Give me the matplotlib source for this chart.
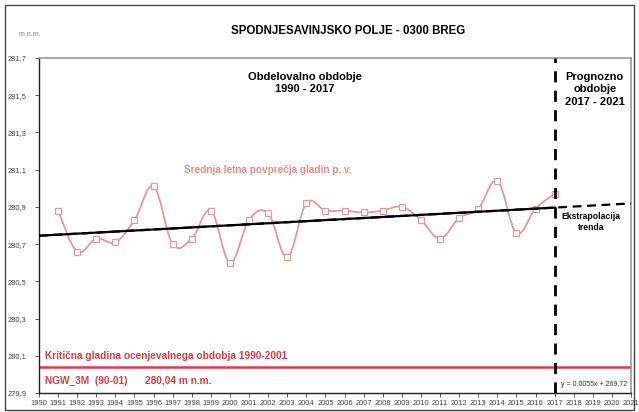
import matplotlib.pyplot as plt
from matplotlib.path import Path
from matplotlib.patches import PathPatch, Rectangle
import numpy as np

plt.rcParams['font.family'] = ['Liberation Sans', 'DejaVu Sans']

# Mean annual groundwater level (m n.m.)
years = np.arange(1991, 2018)
levels = [280.88, 280.66, 280.73, 280.71, 280.83, 281.01, 280.70, 280.73, 280.88, 280.60,
          280.83, 280.865, 280.63, 280.92, 280.88, 280.88, 280.87, 280.88, 280.90, 280.83,
          280.73, 280.84, 280.89, 281.04, 280.76, 280.89, 280.97]

# Linear trend (value at 1990 and slope per year)
trend_start_year = 1990
trend_start = 280.745
trend_slope = 0.0056
forecast_year = 2017
end_year = 2021

# Critical level NGW_3M (90-01)
critical_level = 280.04

yticks = np.round(np.arange(279.9, 281.71, 0.2), 1)
xticks = np.arange(1990, 2022)

series_color = '#e49a9c'
red = '#dc3c44'


def smooth_path(x, y):
    """Excel-like smoothed line: Catmull-Rom converted to cubic Bezier segments."""
    x = np.asarray(x, float)
    y = np.asarray(y, float)
    pts = np.column_stack([x, y])
    verts = [pts[0]]
    codes = [Path.MOVETO]
    n = len(pts)
    for i in range(n - 1):
        p0 = pts[i - 1] if i > 0 else pts[i]
        p1 = pts[i]
        p2 = pts[i + 1]
        p3 = pts[i + 2] if i + 2 < n else pts[i + 1]
        c1 = p1 + (p2 - p0) / 5.5
        c2 = p2 - (p3 - p1) / 5.5
        verts += [c1, c2, p2]
        codes += [Path.CURVE4] * 3
    return Path(verts, codes)


fig = plt.figure(figsize=(6.39, 4.12), dpi=100)
ax = fig.add_axes([39 / 639, 1 - 393 / 412, 592 / 639, 335 / 412])

# outer frame around the whole picture
fig.patches.append(Rectangle((5 / 639, 2 / 412), 629 / 639, 405 / 412, transform=fig.transFigure,
                             fill=False, edgecolor='#444444', linewidth=1.0))

# smoothed series with square markers
ax.add_patch(PathPatch(smooth_path(years, levels), facecolor='none', edgecolor=series_color,
                       linewidth=1.3, zorder=3))
ax.plot(years, levels, linestyle='none', marker='s', markersize=5, markerfacecolor='white',
        markeredgecolor=series_color, markeredgewidth=0.9, zorder=4)

# trend line: solid over the observation period, dashed extrapolation
tx = np.array([trend_start_year, forecast_year])
ax.plot(tx, trend_start + trend_slope * (tx - trend_start_year), color='black', lw=1.6, zorder=5)
tx_all = np.array([trend_start_year, end_year])
ax.plot(tx_all, trend_start + trend_slope * (tx_all - trend_start_year), color='black', lw=1.6,
        dashes=(4, 2.5), zorder=5)

# separation between observed and forecast period
ax.axvline(forecast_year, color='black', lw=2.0, dashes=(4, 3), zorder=6)

# critical level
ax.axhline(critical_level, color=red, lw=1.8, zorder=2)

ax.set_xlim(1990, 2021)
ax.set_ylim(279.9, 281.7)
ax.set_xticks(xticks)
ax.set_xticklabels([str(x) for x in xticks])
ax.set_yticks(yticks)
ax.set_yticklabels([f'{v:.1f}'.replace('.', ',') for v in yticks])
ax.tick_params(axis='both', labelsize=5.4, colors='#444444', length=3, width=0.6, direction='out')
ax.tick_params(axis='y', pad=6)
ax.tick_params(axis='x', pad=2)

for side in ('left', 'bottom'):
    ax.spines[side].set_color('#222222')
    ax.spines[side].set_linewidth(1.0)
for side in ('top', 'right'):
    ax.spines[side].set_color('#999999')
    ax.spines[side].set_linewidth(1.2)

# texts
fig.text(348 / 639, 1 - 31 / 412, 'SPODNJESAVINJSKO POLJE - 0300 BREG', ha='center', va='center',
         fontsize=8.3, fontweight='bold')
fig.text(30 / 639, 1 - 34 / 412, 'm n.m.', ha='center', va='center', fontsize=5, color='#777777')

ax.text(2003.9, 281.625, 'Obdelovalno obdobje\n1990 - 2017', ha='center', va='top', fontsize=8,
        fontweight='bold', linespacing=1.25)
ax.text(2019.1, 281.625, 'Prognozno\nobdobje\n2017 - 2021', ha='center', va='top', fontsize=8,
        fontweight='bold', linespacing=1.3)
ax.text(1997.6, 281.10, 'Srednja letna povprečja gladin p. v.', ha='left', va='center',
        fontsize=7.2, fontweight='bold', color='#e88a8c')
ax.text(2018.9, 280.87, 'Ekstrapolacija\ntrenda', ha='center', va='top', fontsize=6.2,
        fontweight='bold', linespacing=1.15)
ax.text(1990.3, 280.10, 'Kritična gladina ocenjevalnega obdobja 1990-2001', ha='left', va='center',
        fontsize=7.3, fontweight='bold', color=red)
ax.text(1990.3, 279.965, 'NGW_3M  (90-01)', ha='left', va='center', fontsize=7.3,
        fontweight='bold', color=red)
ax.text(1995.55, 279.965, '280,04 m n.m.', ha='left', va='center', fontsize=7.3,
        fontweight='bold', color=red)
ax.text(2017.35, 279.945, 'y = 0,0055x + 269,72', ha='left', va='center', fontsize=5,
        color='#333333')

fig.savefig('out.png', dpi=100)
